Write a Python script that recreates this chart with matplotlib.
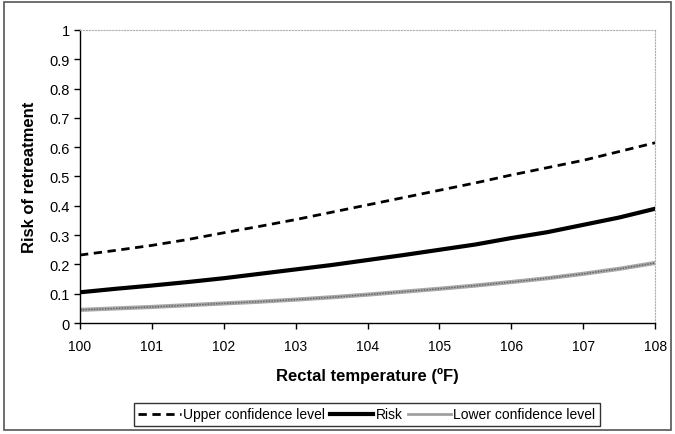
import matplotlib
matplotlib.use('Agg')
from matplotlib import pyplot as plt
from matplotlib.patches import Rectangle
from matplotlib.lines import Line2D

plt.rcParams['font.family'] = ['Liberation Sans', 'DejaVu Sans']

temp = [100, 100.5, 101, 101.5, 102, 102.5, 103, 103.5, 104,
        104.5, 105, 105.5, 106, 106.5, 107, 107.5, 108]
upper = [0.232, 0.248, 0.265, 0.285, 0.308, 0.330, 0.353, 0.378, 0.403,
         0.428, 0.453, 0.478, 0.505, 0.530, 0.555, 0.585, 0.615]
risk = [0.105, 0.117, 0.128, 0.140, 0.153, 0.168, 0.183, 0.198, 0.215,
        0.232, 0.250, 0.268, 0.290, 0.310, 0.335, 0.360, 0.390]
lower = [0.045, 0.050, 0.055, 0.061, 0.067, 0.073, 0.080, 0.088, 0.097,
         0.107, 0.117, 0.128, 0.140, 0.153, 0.168, 0.185, 0.205]

xticks = [100, 101, 102, 103, 104, 105, 106, 107, 108]
yticks = [0, 0.1, 0.2, 0.3, 0.4, 0.5, 0.6, 0.7, 0.8, 0.9, 1]
ylabels = ['0', '0.1', '0.2', '0.3', '0.4', '0.5', '0.6', '0.7', '0.8', '0.9', '1']

fig = plt.figure(figsize=(6.75, 4.35), dpi=100)
ax = fig.add_axes([0.1185, 0.255, 0.852, 0.674])

# outer frame around the whole chart
fig.patches.append(Rectangle((0.006, 0.01), 0.988, 0.982, transform=fig.transFigure,
                             fill=False, edgecolor='#555555', linewidth=1.2))

l1, = ax.plot(temp, upper, color='black', linewidth=2, linestyle=(0, (3, 2)))
l2, = ax.plot(temp, risk, color='black', linewidth=3)
ax.plot(temp, lower, color='#a8a8a8', linewidth=3)
ax.plot(temp, lower, color='#606060', linewidth=1, linestyle=(0, (1, 1)))
# legend handle for the lower line
h3 = Line2D([], [], color='#a0a0a0', linewidth=2)

ax.set_xlim(100, 108)
ax.set_ylim(0, 1)
ax.set_xticks(xticks)
ax.set_yticks(yticks)
ax.set_yticklabels(ylabels)
ax.tick_params(axis='both', labelsize=10, direction='out', length=4, width=1)
ax.tick_params(axis='x', pad=7.5)
ax.tick_params(axis='y', labelsize=10.5)

for s in ['top', 'right']:
    ax.spines[s].set_color('#b0b0b0')
    ax.spines[s].set_linewidth(0.8)
    ax.spines[s].set_linestyle(':')
for s in ['left', 'bottom']:
    ax.spines[s].set_color('black')
    ax.spines[s].set_linewidth(1)

ax.set_xlabel('Rectal temperature (ºF)', fontsize=12, fontweight='bold', labelpad=10)
ax.set_ylabel('Risk of retreatment', fontsize=12, fontweight='bold', labelpad=9)

leg = fig.legend([l1, l2, h3], ['Upper confidence level', 'Risk', 'Lower confidence level'],
                 loc='center', bbox_to_anchor=(0.543, 0.045), ncol=3, fontsize=10,
                 frameon=True, fancybox=False, handlelength=3.1, columnspacing=0.4,
                 handletextpad=0.15, borderpad=0.3, borderaxespad=0)
leg.get_frame().set_edgecolor('black')
leg.get_frame().set_linewidth(1)

fig.savefig('out.png', dpi=100)
